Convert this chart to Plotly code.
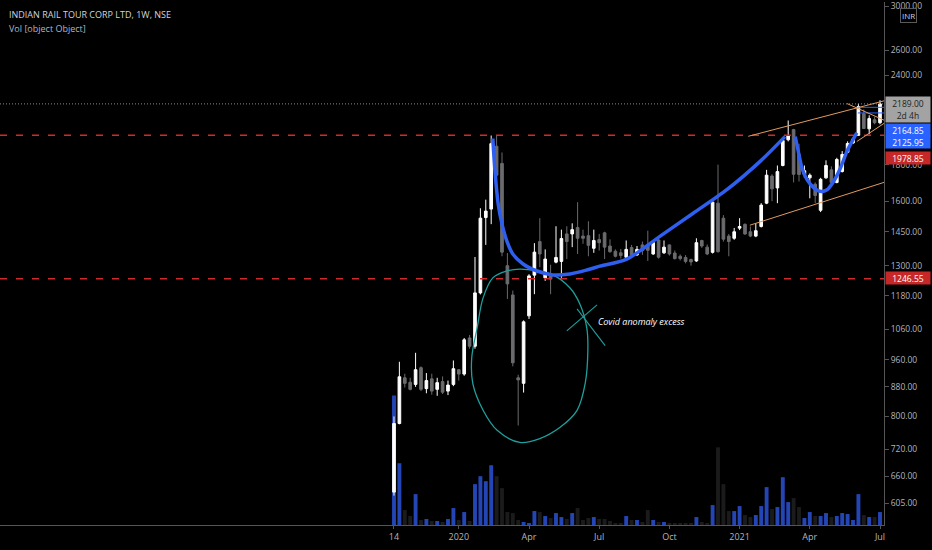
import math
import pandas as pd
import plotly.graph_objects as go

# ---------------- data ----------------
start_week = "2019-10-14"
opens = [627, 782, 906, 893, 887, 936, 875, 903, 873, 895, 868, 887, 930, 917, 1030, 1003,
         1191, 1518, 1560, 1910, 1807, 1300, 1183, 906, 890, 1106, 1261, 1405, 1250, 1265,
         1315, 1318, 1440, 1440, 1470, 1430, 1432, 1375, 1414, 1445, 1385, 1362, 1355, 1336,
         1378, 1346, 1390, 1390, 1350, 1412, 1355, 1390, 1354, 1340, 1335, 1326, 1320, 1410,
         1380, 1357, 1590, 1515, 1430, 1420, 1467, 1485, 1450, 1430, 1475, 1590, 1735, 1670,
         1795, 1950, 2015, 1860, 1745, 1725, 1690, 1554, 1725, 1770, 1700, 1761, 1873, 1930,
         1978, 2121, 2020, 2080, 2060]
highs = [800, 954, 918, 906, 982, 940, 920, 918, 906, 910, 898, 958, 932, 1030, 1040, 1337,
         1564, 1608, 1977, 1978, 1872, 1354, 1200, 915, 1090, 1265, 1398, 1515, 1370, 1304,
         1476, 1460, 1476, 1490, 1595, 1460, 1500, 1460, 1440, 1450, 1415, 1370, 1372, 1410,
         1390, 1385, 1405, 1455, 1412, 1420, 1410, 1392, 1365, 1348, 1345, 1330, 1420, 1413,
         1392, 1605, 1800, 1530, 1440, 1468, 1515, 1490, 1475, 1490, 1590, 1770, 1745, 1795,
         1960, 2075, 2020, 1925, 1795, 1750, 1700, 1725, 1825, 1790, 1840, 1880, 1940, 1965,
         2190, 2150, 2110, 2100, 2215]
lows = [620, 780, 878, 870, 880, 868, 862, 858, 855, 860, 857, 882, 898, 912, 995, 995,
        1185, 1390, 1486, 1720, 1340, 1168, 940, 777, 864, 1095, 1186, 1294, 1238, 1186,
        1310, 1250, 1328, 1380, 1350, 1395, 1340, 1355, 1365, 1328, 1355, 1335, 1330, 1325,
        1340, 1342, 1346, 1320, 1346, 1330, 1350, 1343, 1326, 1322, 1310, 1300, 1316, 1377,
        1345, 1352, 1356, 1405, 1340, 1413, 1458, 1435, 1425, 1425, 1470, 1585, 1600, 1590,
        1790, 1940, 1700, 1705, 1725, 1615, 1590, 1545, 1720, 1695, 1695, 1755, 1870, 1925,
        1975, 2020, 1985, 2050, 2050]
closes = [782, 909, 890, 873, 930, 873, 898, 868, 892, 865, 885, 933, 917, 1024, 1003, 1191,
          1515, 1550, 1926, 1740, 1358, 1226, 951, 900, 1085, 1258, 1358, 1350, 1328, 1245,
          1335, 1419, 1405, 1460, 1420, 1420, 1388, 1410, 1400, 1380, 1360, 1340, 1343, 1370,
          1346, 1370, 1365, 1366, 1400, 1336, 1380, 1350, 1330, 1330, 1318, 1316, 1400, 1385,
          1350, 1595, 1360, 1416, 1405, 1450, 1475, 1440, 1430, 1455, 1580, 1740, 1665, 1760,
          1945, 1975, 1745, 1744, 1765, 1740, 1630, 1717, 1795, 1700, 1830, 1860, 1927, 1955,
          2170, 2022, 2088, 2060, 2189]
volume = [13.0, 6.2, 1.5, 0.9, 3.1, 0.5, 0.6, 0.4, 0.4, 0.3, 0.6, 1.7, 0.5, 1.3, 0.4, 4.1,
          4.9, 4.4, 6.0, 4.9, 3.7, 1.3, 1.2, 0.5, 0.3, 0.2, 1.4, 1.3, 0.9, 0.7,
          1.2, 0.8, 0.6, 1.2, 1.7, 0.5, 0.7, 0.8, 0.6, 0.6, 0.4, 0.2, 0.2, 0.9,
          0.5, 0.5, 0.3, 1.5, 0.5, 0.3, 0.3, 0.2, 0.2, 0.2, 0.2, 0.2, 0.8, 0.3,
          0.2, 2.0, 7.8, 4.1, 1.4, 1.4, 1.9, 1.0, 0.8, 1.0, 1.9, 3.8, 1.6, 1.8,
          4.8, 2.3, 2.7, 1.8, 0.7, 1.3, 0.9, 0.9, 1.2, 0.8, 0.9, 1.2, 1.1, 0.5,
          3.1, 1.0, 0.8, 0.8, 1.3]

x_tick_weeks = [0, 12, 25, 38, 51, 64, 77, 90]
x_tick_text = ["14", "2020", "Apr", "Jul", "Oct", "2021", "Apr", "Jul"]
price_ticks = [3000, 2600, 2400, 1800, 1600, 1450, 1300, 1180, 1060, 960, 880, 800, 720, 660, 605]

support_levels = [1978.85, 1246.55]
last_price = 2189.00
marker_levels = [2164.85, 2125.95]

# drawings (week index, price)
cup1_w = [18.3, 18.7, 19.3, 20.0, 20.9, 22.0, 23.9, 26.5, 29.4, 32.6, 35.7, 38.1, 43.1, 49.3, 55.4, 61.7, 67.8, 72.4]
cup1_p = [1958, 1761, 1584, 1486, 1407, 1350, 1307, 1278, 1262, 1266, 1282, 1298, 1328, 1430, 1539, 1662, 1819, 1970]
cup2_w = [74.3, 74.8, 75.6, 76.6, 77.7, 78.9, 80.2, 81.3, 82.6, 83.9, 85.0, 85.7]
cup2_p = [1970, 1890, 1775, 1710, 1672, 1652, 1660, 1700, 1775, 1880, 1950, 1995]
loop_w = [20.9, 23.3, 26.5, 29.4, 32.6, 34.4, 35.7, 35.9, 35.4, 33.9, 30.7, 27.0, 23.3, 19.1, 16.5, 14.6, 14.4, 15.4, 16.5, 18.3, 20.9]
loop_p = [1278, 1286, 1278, 1262, 1210, 1150, 1064, 989, 889, 816, 772, 745, 736, 765, 816, 889, 967, 1064, 1172, 1250, 1278]
cross_a_w, cross_a_p = [32.0, 37.6], [1054, 1146]
cross_b_w, cross_b_p = [33.9, 39.1], [1131, 1005]
chan_up_w, chan_up_p = [65.6, 90.9], [1972, 2212]
chan_lo_w, chan_lo_p = [65.9, 91.9], [1481, 1711]
tri_a_w, tri_a_p = [83.9, 91.3], [2191, 2068]
tri_b_w, tri_b_p = [85.7, 91.5], [1939, 2074]

# ---------------- helpers ----------------
base = pd.Timestamp(start_week)


def wk(i):
    return base + pd.Timedelta(hours=24 * 7 * i)


def wks(lst):
    return [wk(v) for v in lst]


dates = [wk(i) for i in range(len(opens))]
x_left, x_right = wk(-72.96), wk(90.74)
PH = 525.0  # plot height px

fig = go.Figure()

UP_VOL = "#2446b5"
DN_VOL = "#1b1b1b"
vcolors = [UP_VOL if c >= o else DN_VOL for o, c in zip(opens, closes)]
fig.add_trace(go.Bar(x=dates, y=volume, marker=dict(color=vcolors, line=dict(width=0)),
                     yaxis="y", hoverinfo="skip", showlegend=False))

# full-width horizontal lines
for lv in support_levels:
    fig.add_trace(go.Scatter(x=[x_left, x_right], y=[lv, lv], mode="lines", yaxis="y2",
                             line=dict(color="#d12a2a", width=1.6, dash="7px,9px"),
                             hoverinfo="skip", showlegend=False))
fig.add_trace(go.Scatter(x=[x_left, x_right], y=[last_price, last_price], mode="lines", yaxis="y2",
                         line=dict(color="#8a8a8a", width=1, dash="1px,2px"),
                         hoverinfo="skip", showlegend=False))
for lv in marker_levels:
    fig.add_trace(go.Scatter(x=[wk(85.9), x_right], y=[lv, lv], mode="lines", yaxis="y2",
                             line=dict(color="#2962ff", width=1),
                             hoverinfo="skip", showlegend=False))

# orange channel + triangle
for ww, pp in [(chan_up_w, chan_up_p), (chan_lo_w, chan_lo_p), (tri_a_w, tri_a_p), (tri_b_w, tri_b_p)]:
    fig.add_trace(go.Scatter(x=wks(ww), y=pp, mode="lines", yaxis="y2",
                             line=dict(color="#e39a5c", width=1),
                             hoverinfo="skip", showlegend=False))

# teal loop and cross
fig.add_trace(go.Scatter(x=wks(loop_w), y=loop_p, mode="lines", yaxis="y2",
                         line=dict(color="#1f9f9c", width=1.3, shape="spline", smoothing=1.0),
                         hoverinfo="skip", showlegend=False))
for ww, pp in [(cross_a_w, cross_a_p), (cross_b_w, cross_b_p)]:
    fig.add_trace(go.Scatter(x=wks(ww), y=pp, mode="lines", yaxis="y2",
                             line=dict(color="#1f9f9c", width=1.1),
                             hoverinfo="skip", showlegend=False))

# candles
fig.add_trace(go.Candlestick(x=dates, open=opens, high=highs, low=lows, close=closes, yaxis="y2",
                             increasing=dict(line=dict(color="#ffffff", width=1), fillcolor="#ffffff"),
                             decreasing=dict(line=dict(color="#6b6b6e", width=1), fillcolor="#6b6b6e"),
                             whiskerwidth=0, hoverinfo="skip", showlegend=False))

# blue cup curves
for ww, pp in [(cup1_w, cup1_p), (cup2_w, cup2_p)]:
    fig.add_trace(go.Scatter(x=wks(ww), y=pp, mode="lines", yaxis="y2",
                             line=dict(color="#2f5ff0", width=3.5, shape="spline", smoothing=0.8),
                             hoverinfo="skip", showlegend=False))

FONT = "Open Sans"
ann = []


def py(p):
    return 1 - p / PH


ann.append(dict(xref="paper", yref="paper", x=7 / 884, y=py(13), xanchor="left", yanchor="middle",
                text="INDIAN RAIL TOUR CORP LTD, 1W, NSE", showarrow=False,
                font=dict(family=FONT, size=9, color="#d1d4dc")))
ann.append(dict(xref="paper", yref="paper", x=7 / 884, y=py(27), xanchor="left", yanchor="middle",
                text="Vol [object Object]", showarrow=False,
                font=dict(family=FONT, size=9, color="#b2b5be")))
ann.append(dict(xref="x", yref="y2", x=wk(37.4), y=math.log10(1085), xanchor="left", yanchor="middle",
                text="<i>Covid anomaly excess</i>", showarrow=False,
                font=dict(family=FONT, size=9, color="#ffffff")))


def price_box(text, ycen, bg, fg, h=12):
    return dict(xref="paper", yref="paper", x=1, xshift=1, y=py(ycen), xanchor="left", yanchor="middle",
                text=text, showarrow=False, bgcolor=bg, width=44, height=h, borderpad=0,
                font=dict(family=FONT, size=8.5, color=fg))


ann.append(price_box(f"{last_price:.2f}<br>2d 4h", 108, "#a3a3a3", "#1e1e1e", h=25))
ann.append(price_box(f"{marker_levels[0]:.2f}", 128, "#2962ff", "#ffffff"))
ann.append(price_box(f"{marker_levels[1]:.2f}", 141, "#2962ff", "#ffffff"))
ann.append(price_box(f"{support_levels[0]:.2f}", 157, "#c62828", "#ffffff"))
ann.append(price_box(f"{support_levels[1]:.2f}", 277, "#c62828", "#ffffff"))
ann.append(dict(xref="paper", yref="paper", x=1, xshift=24, y=py(14), xanchor="center", yanchor="middle",
                text="INR", showarrow=False, bgcolor="#000000", bordercolor="#5a5a5a", borderwidth=1,
                borderpad=1, font=dict(family=FONT, size=8, color="#d1d4dc")))

fig.update_layout(
    width=932, height=550, autosize=False,
    margin=dict(l=0, r=48, t=0, b=25),
    paper_bgcolor="#000000", plot_bgcolor="#000000",
    showlegend=False, bargap=0.28, boxgap=0.3,
    font=dict(family=FONT, color="#b2b5be", size=8.5),
    xaxis=dict(type="date", range=[x_left, x_right], showgrid=False, zeroline=False,
               rangeslider=dict(visible=False), anchor="y",
               tickvals=[wk(i) for i in x_tick_weeks], ticktext=x_tick_text,
               ticks="outside", ticklen=3, tickcolor="#555555",
               showline=True, linecolor="#555555", linewidth=1,
               tickfont=dict(family=FONT, size=9, color="#b2b5be")),
    yaxis=dict(range=[0, 52.5], visible=False, fixedrange=True),
    yaxis2=dict(type="log", overlaying="y", side="right", anchor="x",
                range=[math.log10(564), math.log10(3039)],
                tickvals=price_ticks, ticktext=[f"{v:.2f}" for v in price_ticks],
                ticklabeloverflow="allow",
                showgrid=False, zeroline=False, ticks="outside", ticklen=4, tickcolor="#555555",
                showline=True, linecolor="#555555", linewidth=1,
                tickfont=dict(family=FONT, size=8.5, color="#b2b5be")),
    annotations=ann,
)

fig.write_html("out.html", config={"displayModeBar": False},
               post_script="document.body.style.margin='0px';document.body.style.background='#000000';")
